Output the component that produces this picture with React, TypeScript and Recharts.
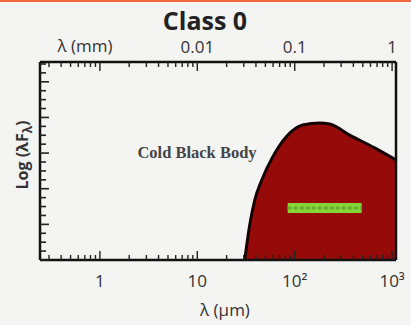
import { Area, ComposedChart, Customized, Line, XAxis, YAxis } from 'recharts'

// log10(lambda / um) along the cold black body outline, and its height (0-100 of the y range)
const bodyLogLam = [1.487, 1.538, 1.59, 1.662, 1.774, 1.918, 2.082, 2.256, 2.359, 2.564, 2.821, 3.04]
const bodyFlux = [0, 17.7, 30.3, 40.4, 52.0, 62.5, 68.2, 69.2, 68.7, 63.1, 56.6, 50.5]

// green submm band
const submmLogLam = [1.928, 2.687]
const submmFlux = [26.3, 26.3]

const decades = [-1, 0, 1, 2]
const bottomTickValues = [0, 1, 2, 3]
const bottomTickLabels = ['1', '10', '10²', '10³']
const topTickValues = [1, 2, 3]
const topTickLabels = ['0.01', '0.1', '1']

const yTicks = [
  0, 4.5, 9, 13.5, 18, 22.5, 27, 31.5, 36, 40.5, 45, 49.5, 54, 58.5, 63, 67.5, 72, 76.5, 81,
  85.5, 90, 94.5, 99,
]

const X_MIN = -0.615
const X_MAX = 3.04

const logTicks = decades
  .flatMap((d) => [1, 2, 3, 4, 5, 6, 7, 8, 9].map((m) => d + Math.log10(m)))
  .filter((v) => v >= X_MIN && v <= X_MAX)
  .concat([3])

const bodyData = bodyLogLam.map((l, i) => ({ l, f: bodyFlux[i] }))
const submmData = submmLogLam.map((l, i) => ({ l, f: submmFlux[i] }))

const font = "'Open Sans', 'DejaVu Sans', sans-serif"

function isMajor(v: number) {
  return Math.abs(v - Math.round(v)) < 1e-6
}

function BottomTick(props: any) {
  const { x, y, payload } = props
  const v = payload.value
  const len = isMajor(v) ? 9 : 5
  const idx = bottomTickValues.findIndex((t) => Math.abs(t - v) < 1e-6)
  return (
    <g>
      <line x1={x} x2={x} y1={y} y2={y - len} stroke='#222' strokeWidth={1.4} />
      {idx >= 0 && (
        <text x={x} y={y + 27} textAnchor='middle' fontSize={17} fill='#333' fontFamily={font}>
          {bottomTickLabels[idx]}
        </text>
      )}
    </g>
  )
}

function TopTick(props: any) {
  const { x, y, payload } = props
  const v = payload.value
  const len = isMajor(v) ? 9 : 5
  const idx = topTickValues.findIndex((t) => Math.abs(t - v) < 1e-6)
  return (
    <g>
      <line x1={x} x2={x} y1={y} y2={y + len} stroke='#222' strokeWidth={1.4} />
      {idx >= 0 && (
        <text x={x} y={y - 9} textAnchor='middle' fontSize={17} fill='#333' fontFamily={font}>
          {topTickLabels[idx]}
        </text>
      )}
    </g>
  )
}

function LeftTick(props: any) {
  const { x, y, index } = props
  const len = index % 4 === 0 ? 9 : 6
  return <line x1={x} x2={x + len} y1={y} y2={y} stroke='#222' strokeWidth={1.6} />
}

function RightTick(props: any) {
  const { x, y, index } = props
  const len = index % 4 === 0 ? 9 : 6
  return <line x1={x} x2={x - len} y1={y} y2={y} stroke='#222' strokeWidth={1.6} />
}

function Texts() {
  return (
    <g fontFamily={font} fill='#333'>
      <text x={205} y={30} textAnchor='middle' fontSize={25} fontWeight='bold' fill='#222'>
        Class 0
      </text>
      <text x={85} y={52} textAnchor='middle' fontSize={17}>
        λ (mm)
      </text>
      <text x={225} y={316} textAnchor='middle' fontSize={17}>
        λ (μm)
      </text>
      <text
        x={28}
        y={155}
        textAnchor='middle'
        fontSize={16}
        fontWeight='bold'
        transform='rotate(-90 28 155)'
      >
        Log (λF
        <tspan fontSize={12} dy={4}>
          λ
        </tspan>
        <tspan dy={-4}>)</tspan>
      </text>
      <text
        x={197}
        y={158}
        textAnchor='middle'
        fontSize={16.5}
        fontWeight='bold'
        fontFamily="'Liberation Serif', serif"
        fill='#444'
      >
        Cold Black Body
      </text>
    </g>
  )
}

export default function App() {
  return (
    <div style={{ position: 'absolute', left: 0, top: 0, width: 411, height: 325, background: '#f4f4f3' }}>
      <div style={{ position: 'absolute', left: 0, top: 0, width: 411, height: 2, background: '#f0683c' }} />
      <ComposedChart
        width={411}
        height={325}
        margin={{ top: 61, right: 14, bottom: 64, left: 39 }}
      >
        <XAxis
          xAxisId='b'
          dataKey='l'
          type='number'
          orientation='bottom'
          domain={[X_MIN, X_MAX]}
          allowDataOverflow
          ticks={logTicks}
          interval={0}
          height={1}
          tickSize={0}
          tickMargin={0}
          tickLine={false}
          tick={<BottomTick />}
          axisLine={{ stroke: '#111', strokeWidth: 2.5 }}
        />
        <XAxis
          xAxisId='t'
          dataKey='l'
          type='number'
          orientation='top'
          domain={[X_MIN, X_MAX]}
          allowDataOverflow
          ticks={logTicks}
          interval={0}
          height={1}
          tickSize={0}
          tickMargin={0}
          tickLine={false}
          tick={<TopTick />}
          axisLine={{ stroke: '#111', strokeWidth: 2.5 }}
        />
        <YAxis
          yAxisId='l'
          type='number'
          domain={[0, 100]}
          ticks={yTicks}
          interval={0}
          width={1}
          tickSize={0}
          tickMargin={0}
          tickLine={false}
          tick={<LeftTick />}
          axisLine={{ stroke: '#111', strokeWidth: 2.5 }}
        />
        <YAxis
          yAxisId='r'
          orientation='right'
          type='number'
          domain={[0, 100]}
          ticks={yTicks}
          interval={0}
          width={1}
          tickSize={0}
          tickMargin={0}
          tickLine={false}
          tick={<RightTick />}
          axisLine={{ stroke: '#111', strokeWidth: 2.5 }}
        />
        <Area
          data={bodyData}
          xAxisId='b'
          yAxisId='l'
          dataKey='f'
          type='monotone'
          fill='#960a0a'
          fillOpacity={1}
          stroke='#160404'
          strokeWidth={3}
          baseValue={0}
          isAnimationActive={false}
        />
        <Line
          data={submmData}
          xAxisId='b'
          yAxisId='l'
          dataKey='f'
          stroke='#86d63a'
          strokeWidth={10}
          dot={false}
          isAnimationActive={false}
        />
        <Line
          data={submmData}
          xAxisId='b'
          yAxisId='l'
          dataKey='f'
          stroke='#5fae24'
          strokeWidth={3}
          strokeDasharray='4 2'
          dot={false}
          isAnimationActive={false}
        />
        <Customized component={Texts} />
      </ComposedChart>
    </div>
  )
}
